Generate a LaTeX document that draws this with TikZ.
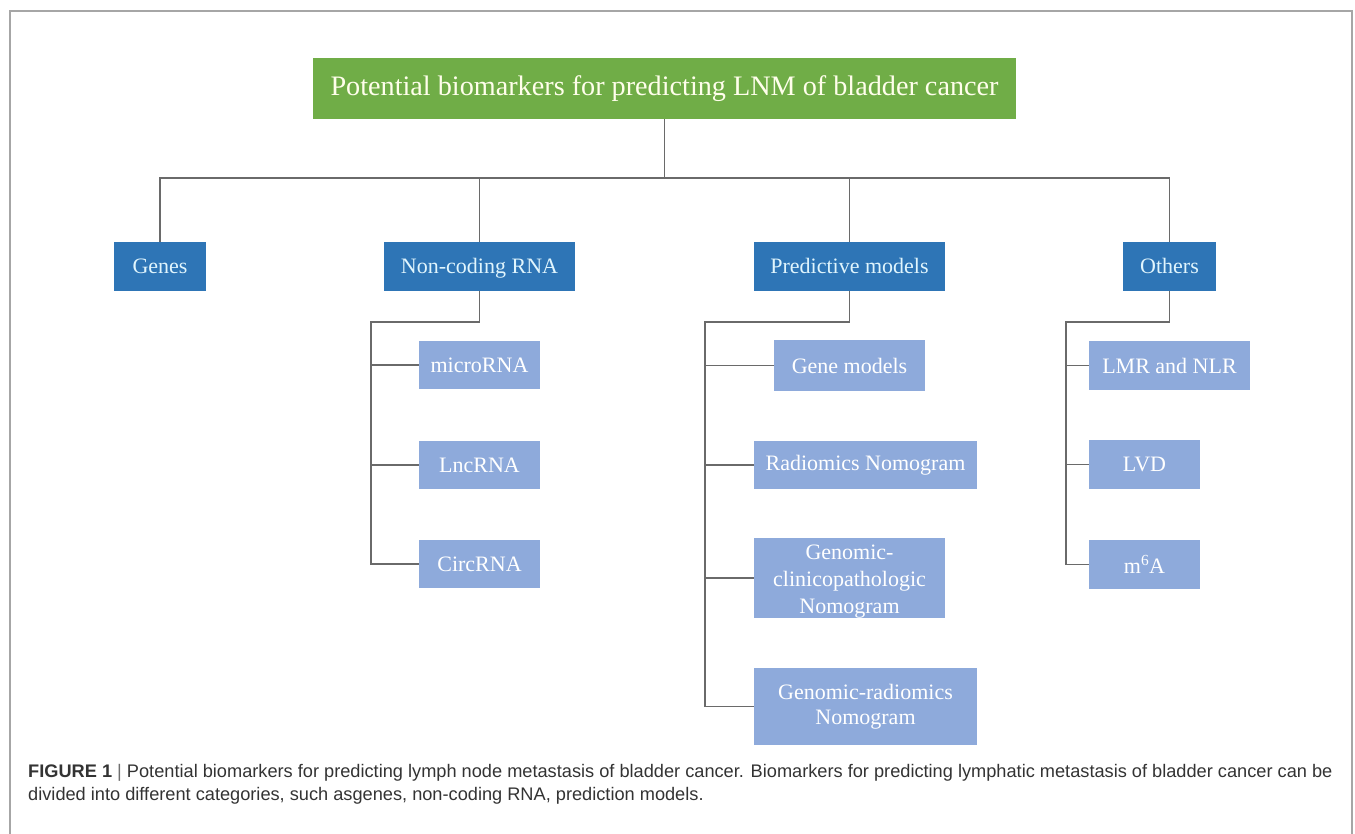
\documentclass[tikz,border=0pt]{standalone}
\usepackage{fontspec}
\setmainfont{Liberation Serif}
\newfontfamily\capfont{Liberation Sans}
\definecolor{titlegreen}{HTML}{70AD47}
\definecolor{darkblue}{HTML}{2E75B6}
\definecolor{lightblue}{HTML}{8EAADB}
\definecolor{linegray}{HTML}{6A6A6A}
\definecolor{framegray}{HTML}{A6A6A6}
\definecolor{captext}{HTML}{333333}
\tikzset{
  titlebox/.style={fill=titlegreen, text=white!92!yellow, inner sep=0, font=\fontsize{28.2}{33}\selectfont},
  catbox/.style={fill=darkblue, text=white!88!cyan, inner sep=0, minimum height=49, text height=16pt, text depth=3pt, font=\fontsize{22}{26}\selectfont},
  subbox/.style={fill=lightblue, text=white, inner sep=0, align=center, font=\fontsize{22}{26}\selectfont},
  link/.style={draw=linegray, line width=1.3pt},
  captxt/.style={anchor=base west, inner sep=0, text=captext, font=\capfont\fontsize{18.2}{22}\selectfont}
}
\begin{document}
\begin{tikzpicture}[x=1pt,y=-1pt]
\useasboundingbox (0,0) rectangle (1355,833);
\draw[framegray, line width=1.2pt] (10,840) -- (10,11) -- (1352,11) -- (1352,840);

\node[titlebox, minimum width=703, minimum height=61] (title) at (664.5,88.5) {Potential biomarkers for predicting LNM of bladder cancer};

\node[catbox, minimum width=92] (genes) at (160,266.5) {Genes};
\node[catbox, minimum width=191] (nc) at (479.5,266.5) {Non-coding RNA};
\node[catbox, minimum width=191] (pm) at (849.5,266.5) {Predictive models};
\node[catbox, minimum width=93] (others) at (1169.5,266.5) {Others};

\node[subbox, minimum width=121, minimum height=48] (micro) at (479.5,365) {microRNA};
\node[subbox, minimum width=121, minimum height=48] (lnc) at (479.5,465) {LncRNA};
\node[subbox, minimum width=121, minimum height=48] (circ) at (479.5,564) {CircRNA};

\node[subbox, minimum width=151, minimum height=51] (genemod) at (849.5,365.5) {Gene models};
\node[subbox, minimum width=223, minimum height=48] (radio) at (865.5,465) {Radiomics Nomogram};
\node[subbox, minimum width=191, minimum height=78, font=\fontsize{22}{27}\selectfont] (genclin) at (849.5,578) {\rule{0pt}{22pt}Genomic-\\clinicopathologic\\Nomogram};
\node[subbox, minimum width=223, minimum height=77, font=\fontsize{22}{25}\selectfont] (genrad) at (865.5,706.5) {Genomic-radiomics\\Nomogram};

\node[subbox, minimum width=161, minimum height=49] (lmr) at (1169.5,365.5) {LMR and NLR};
\node[subbox, minimum width=111, minimum height=49] (lvd) at (1144.5,464.5) {LVD};
\node[subbox, minimum width=111, minimum height=49] (m6a) at (1144.5,564.5) {m\textsuperscript{6}A};

% main tree
\coordinate (bus) at (0,178);
\draw[link] (title.south) -- (title.south |- bus);
\draw[link] (genes.north) -- (genes.north |- bus) -| (others.north);
\draw[link] (nc.north) -- (nc.north |- bus);
\draw[link] (pm.north) -- (pm.north |- bus);

% non-coding RNA subtree
\coordinate (ncsp) at (371,322);
\draw[link] (nc.south) |- (ncsp) -- (ncsp |- circ.west) -- (circ.west);
\draw[link] (ncsp |- micro.west) -- (micro.west);
\draw[link] (ncsp |- lnc.west) -- (lnc.west);

% predictive models subtree
\coordinate (pmsp) at (705,322);
\draw[link] (pm.south) |- (pmsp) -- (pmsp |- genrad.west) -- (genrad.west);
\draw[link] (pmsp |- genemod.west) -- (genemod.west);
\draw[link] (pmsp |- radio.west) -- (radio.west);
\draw[link] (pmsp |- genclin.west) -- (genclin.west);

% others subtree
\coordinate (otsp) at (1066,322);
\draw[link] (others.south) |- (otsp) -- (otsp |- m6a.west) -- (m6a.west);
\draw[link] (otsp |- lmr.west) -- (lmr.west);
\draw[link] (otsp |- lvd.west) -- (lvd.west);

% caption
\node[captxt] (cap1) at (28,777) {\textbf{FIGURE 1} {\color{captext!70}|} Potential biomarkers for predicting lymph node metastasis of bladder cancer. Biomarkers for predicting lymphatic metastasis of bladder cancer can be};
\node[captxt] (cap2) at (28,800) {divided into different categories, such asgenes, non-coding RNA, prediction models.};
\end{tikzpicture}
\end{document}
